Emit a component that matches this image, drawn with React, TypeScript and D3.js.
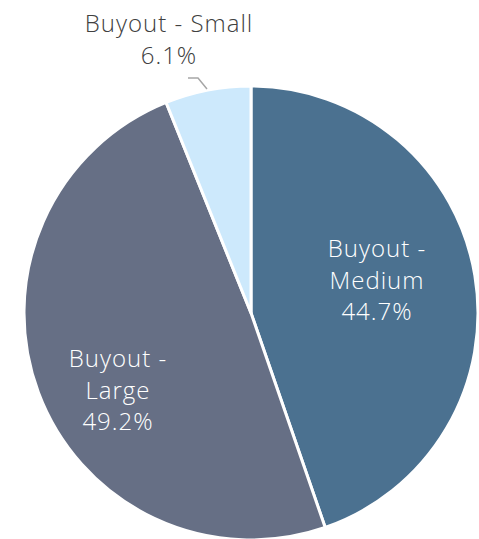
import React from "react";
import * as d3 from "d3";

const categories = ["Buyout - Medium", "Buyout - Large", "Buyout - Small"];
const values = [44.7, 49.2, 6.1];
const labelLines = [["Buyout -", "Medium", "44.7%"], ["Buyout -", "Large", "49.2%"], ["Buyout - Small", "6.1%"]];
const colors = ["#4b7190", "#666f85", "#cde9fc"];

export default function App() {
  const W = 479, H = 539;
  const cx = 251, cy = 313, r = 227;
  const pie = d3.pie<number>().sort(null).value((d) => d)(values);
  const arc = d3.arc<d3.PieArcDatum<number>>().innerRadius(0).outerRadius(r);
  const font = "'Open Sans', sans-serif";
  const fs = 24;
  const lh = 31.5;
  // first-line baseline for each label
  const labelPos = [
    { x: 377, y: 257, color: "#ffffff" },
    { x: 118, y: 367, color: "#ffffff" },
    { x: 169, y: 32, color: "#404040" },
  ];
  return (
    <svg width={W} height={H} style={{ position: "absolute", left: 0, top: 0, background: "#fff" }}>
      <g transform={`translate(${cx},${cy})`}>
        {pie.map((p, i) => (
          <path key={categories[i]} d={arc(p) || ""} fill={colors[i]} stroke="#ffffff" strokeWidth={3} strokeLinejoin="round" />
        ))}
      </g>
      <polyline points="188,78 198,78 207,89" fill="none" stroke="#a6a6a6" strokeWidth={1.5} />
      {labelLines.map((lines, i) => {
        const lp = labelPos[i];
        return (
          <text key={i} textAnchor="middle" fontFamily={font} fontSize={fs} fontWeight={300} letterSpacing={1} fill={lp.color}>
            {lines.map((t, j) => (
              <tspan key={j} x={lp.x} y={lp.y + j * lh}>{t}</tspan>
            ))}
          </text>
        );
      })}
    </svg>
  );
}
